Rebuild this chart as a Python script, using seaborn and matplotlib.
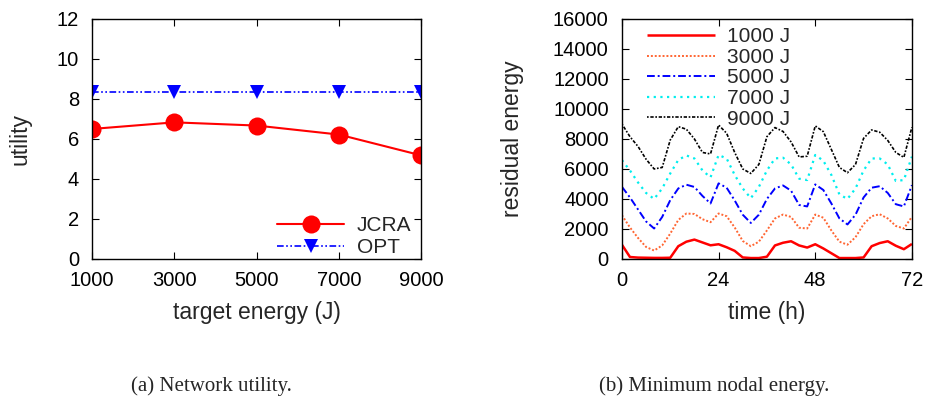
import matplotlib
matplotlib.use("Agg")
import matplotlib.pyplot as plt
import numpy as np
import pandas as pd
import seaborn as sns

# ── panel (a): network utility vs target energy ──
target_energy = [1000, 3000, 5000, 7000, 9000]
utility_jcra = [6.50, 6.83, 6.67, 6.22, 5.18]
utility_opt = [8.35, 8.35, 8.35, 8.35, 8.35]

# ── panel (b): minimum nodal energy over time ──
hours = [0, 2, 4, 6, 8, 10, 12, 14, 16, 18, 20, 22, 24, 26, 28, 30, 32, 34, 36,
         38, 40, 42, 44, 46, 48, 50, 52, 54, 56, 58, 60, 62, 64, 66, 68, 70, 72]
energy_1000 = [950, 130, 90, 80, 70, 70, 80, 850, 1150, 1290, 1100, 910, 980,
               780, 540, 100, 60, 60, 150, 900, 1080, 1180, 900, 760, 980, 700,
               380, 60, 60, 60, 100, 850, 1060, 1180, 880, 650, 1000]
energy_3000 = [2920, 2100, 1400, 800, 560, 900, 1690, 2600, 3030, 3000, 2650,
               2450, 3030, 2850, 2100, 1200, 850, 1150, 1900, 2700, 2960, 2800,
               2080, 2030, 2960, 2750, 1900, 1150, 950, 1450, 2320, 2850, 2980,
               2700, 2200, 2030, 2810]
energy_5000 = [4810, 4100, 3300, 2500, 2030, 2800, 3920, 4700, 4950, 4800, 4200,
               3700, 5040, 4750, 3900, 2950, 2400, 2950, 4000, 4700, 4900, 4550,
               3600, 3500, 4970, 4600, 3700, 2700, 2300, 2950, 4100, 4750, 4850,
               4400, 3650, 3500, 4920]
energy_7000 = [6590, 5900, 5100, 4400, 4000, 4700, 5700, 6600, 6900, 6700, 5900,
               5440, 6930, 6700, 5600, 4700, 4050, 4800, 5900, 6700, 6750, 6300,
               5350, 5260, 6930, 6550, 5600, 4300, 4000, 4700, 5900, 6700, 6700,
               6300, 5200, 5260, 6820]
energy_9000 = [9000, 8150, 7500, 6650, 6000, 6100, 7930, 8820, 8650, 8000, 7100,
               7000, 8930, 8380, 7100, 6000, 5700, 6300, 8150, 8760, 8500, 7800,
               6800, 6850, 8870, 8490, 7300, 6100, 5750, 6300, 8040, 8600, 8450,
               7900, 7100, 6770, 8780]
series_labels = ["1000 J", "3000 J", "5000 J", "7000 J", "9000 J"]

TICK_FS = 14.5
LABEL_FS = 16.5
LEGEND_FS = 15

sns.set_theme(style="ticks")
plt.rcParams["font.family"] = ["Liberation Sans", "DejaVu Sans"]

fig = plt.figure(figsize=(9.31, 3.99), dpi=100)
ax_a = fig.add_axes([0.0989, 0.351, 0.3534, 0.6015])
ax_b = fig.add_axes([0.668, 0.351, 0.3115, 0.6015])

# panel (a)
df_a = pd.DataFrame({"energy": target_energy, "JCRA": utility_jcra, "OPT": utility_opt})
sns.lineplot(data=df_a, x="energy", y="JCRA", ax=ax_a, color="#ff0000", lw=1.5,
             marker="o", markersize=13, markeredgewidth=0, label="JCRA")
sns.lineplot(data=df_a, x="energy", y="OPT", ax=ax_a, color="#0000ff", lw=1.2,
             marker="v", markersize=10, markeredgewidth=0, label="OPT",
             dashes=False, linestyle=(0, (4, 1.5, 1, 1.5, 1, 1.5)))
ax_a.set_xlim(1000, 9000)
ax_a.set_ylim(0, 12)
ax_a.set_xticks(target_energy)
ax_a.set_yticks(range(0, 13, 2))
ax_a.set_xlabel("target energy (J)", fontsize=LABEL_FS)
ax_a.set_ylabel("utility", fontsize=LABEL_FS)
ax_a.xaxis.label.set_va("center")
ax_a.yaxis.label.set_va("center")
ax_a.xaxis.set_label_coords(0.5, -0.225)
ax_a.yaxis.set_label_coords(-0.219, 0.5)
ax_a.legend(loc="upper left", bbox_to_anchor=(0.562, 0.177), frameon=False,
            fontsize=LEGEND_FS, handlelength=3.22, handletextpad=0.62,
            labelspacing=0.135, borderaxespad=0, borderpad=0)

# panel (b)
styles = [
    ("#ff0000", (0, ()), 1.8),
    ("#ff6633", (0, (1, 1)), 1.4),
    ("#0000ff", (0, (4, 1.5, 1, 1.5)), 1.4),
    ("#00eeee", (0, (1, 2)), 1.6),
    ("#000000", (0, (1, 1, 2, 1)), 1.2),
]
df_b = pd.DataFrame({"hour": hours, "1000 J": energy_1000, "3000 J": energy_3000,
                     "5000 J": energy_5000, "7000 J": energy_7000, "9000 J": energy_9000})
for name, (col, ls, lw) in zip(series_labels, styles):
    sns.lineplot(data=df_b, x="hour", y=name, ax=ax_b, color=col, lw=lw,
                 linestyle=ls, label=name)
ax_b.set_xlim(0, 72)
ax_b.set_ylim(0, 16000)
ax_b.set_xticks([0, 24, 48, 72])
ax_b.set_yticks(range(0, 16001, 2000))
ax_b.set_xlabel("time (h)", fontsize=LABEL_FS)
ax_b.set_ylabel("residual energy", fontsize=LABEL_FS)
ax_b.xaxis.label.set_va("center")
ax_b.yaxis.label.set_va("center")
ax_b.xaxis.set_label_coords(0.5, -0.225)
ax_b.yaxis.set_label_coords(-0.376, 0.5)
ax_b.legend(loc="upper left", bbox_to_anchor=(0.086, 0.965), frameon=False,
            fontsize=LEGEND_FS, handlelength=3.27, handletextpad=0.58,
            labelspacing=0.075, borderaxespad=0, borderpad=0)

for ax in (ax_a, ax_b):
    ax.tick_params(direction="in", top=True, right=True, length=5, width=0.8,
                   labelsize=TICK_FS, colors="black")
    ax.tick_params(axis="x", pad=9)
    ax.tick_params(axis="y", pad=9.5)
    for s in ax.spines.values():
        s.set_linewidth(1.0)
        s.set_color("black")

fig.text(0.227, 0.032, "(a) Network utility.", family="Liberation Serif",
         fontsize=15, ha="center", va="center")
fig.text(0.767, 0.032, "(b) Minimum nodal energy.", family="Liberation Serif",
         fontsize=15, ha="center", va="center")

fig.savefig("out.png", dpi=100)
